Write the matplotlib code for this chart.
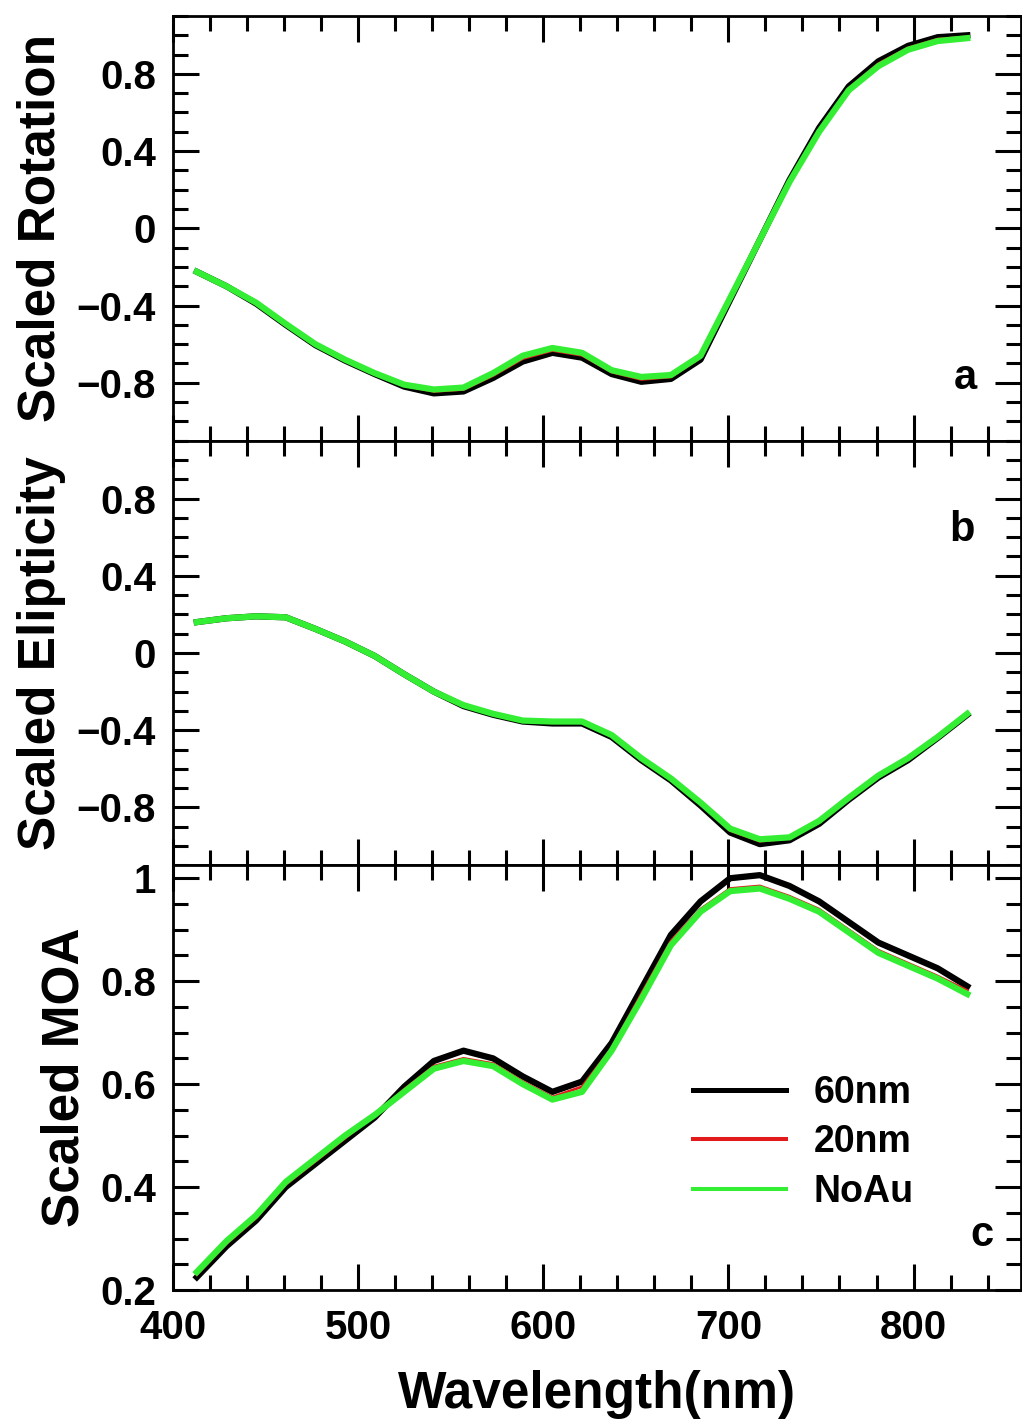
import matplotlib
matplotlib.use("Agg")
import matplotlib.pyplot as plt
from matplotlib.lines import Line2D
from matplotlib.ticker import MultipleLocator, FuncFormatter

plt.rcParams['font.family'] = ['Liberation Sans', 'DejaVu Sans']
plt.rcParams['font.weight'] = 'bold'

# wavelength grid (nm)
wl = [413, 429, 445, 461, 477, 493, 509, 525, 541, 557, 573, 589, 605, 621,
      637, 653, 669, 685, 701, 717, 733, 749, 765, 781, 797, 813, 829]

# panel a: scaled rotation
rot_60 = [-0.225, -0.30, -0.39, -0.50, -0.605, -0.685, -0.755, -0.82, -0.855, -0.845,
          -0.775, -0.69, -0.645, -0.67, -0.755, -0.795, -0.78, -0.68, -0.37, -0.06,
          0.25, 0.52, 0.735, 0.865, 0.945, 0.99, 1.0]
rot_20 = [-0.225, -0.30, -0.388, -0.498, -0.603, -0.683, -0.753, -0.815, -0.845, -0.835,
          -0.763, -0.675, -0.633, -0.658, -0.745, -0.783, -0.77, -0.67, -0.365, -0.06,
          0.245, 0.51, 0.725, 0.853, 0.935, 0.98, 0.992]
rot_noau = [-0.225, -0.30, -0.385, -0.495, -0.60, -0.68, -0.75, -0.81, -0.835, -0.825,
            -0.75, -0.66, -0.62, -0.645, -0.735, -0.77, -0.76, -0.66, -0.36, -0.06,
            0.24, 0.50, 0.715, 0.84, 0.925, 0.97, 0.985]

# panel b: scaled ellipticity
ell_60 = [0.16, 0.18, 0.19, 0.185, 0.125, 0.06, -0.015, -0.11, -0.20, -0.275,
          -0.32, -0.355, -0.365, -0.365, -0.435, -0.555, -0.66, -0.79, -0.93, -0.99,
          -0.97, -0.885, -0.76, -0.645, -0.555, -0.44, -0.32]
ell_20 = [0.16, 0.18, 0.19, 0.185, 0.125, 0.06, -0.015, -0.11, -0.20, -0.272,
          -0.318, -0.352, -0.36, -0.36, -0.43, -0.55, -0.655, -0.78, -0.92, -0.975,
          -0.96, -0.877, -0.755, -0.64, -0.55, -0.437, -0.318]
ell_noau = [0.16, 0.18, 0.19, 0.185, 0.125, 0.06, -0.015, -0.11, -0.20, -0.27,
            -0.315, -0.35, -0.355, -0.355, -0.425, -0.545, -0.65, -0.775, -0.91, -0.965,
            -0.955, -0.87, -0.75, -0.635, -0.545, -0.435, -0.315]

# panel c: scaled MOA
moa_60 = [0.225, 0.285, 0.335, 0.40, 0.445, 0.49, 0.535, 0.595, 0.645, 0.665,
          0.65, 0.615, 0.585, 0.605, 0.68, 0.785, 0.89, 0.955, 1.0, 1.006,
          0.985, 0.955, 0.915, 0.875, 0.85, 0.825, 0.79]
moa_20 = [0.23, 0.29, 0.34, 0.405, 0.45, 0.495, 0.54, 0.59, 0.635, 0.65,
          0.64, 0.605, 0.575, 0.595, 0.67, 0.775, 0.878, 0.94, 0.98, 0.985,
          0.965, 0.94, 0.90, 0.86, 0.835, 0.81, 0.782]
moa_noau = [0.235, 0.295, 0.345, 0.41, 0.455, 0.50, 0.54, 0.585, 0.63, 0.645,
            0.635, 0.60, 0.57, 0.585, 0.665, 0.765, 0.87, 0.935, 0.975, 0.98,
            0.96, 0.935, 0.895, 0.855, 0.83, 0.805, 0.775]

labels = ["60nm", "20nm", "NoAu"]
colors = ["black", "#e31a1c", "#33ee33"]
widths = [4.5, 2.0, 4.5]

panels = [
    ([rot_60, rot_20, rot_noau], "Scaled Rotation", (-1.1, 1.1), 0.4, 0.1, "a", (0.934, 0.147)),
    ([ell_60, ell_20, ell_noau], "Scaled Elipticity", (-1.1, 1.1), 0.4, 0.1, "b", (0.930, 0.79)),
    ([moa_60, moa_20, moa_noau], "Scaled MOA", (0.2, 1.025), 0.2, 0.05, "c", (0.954, 0.13)),
]


def fmt(v, pos):
    s = "%g" % round(v, 3)
    return s.replace("-", "\u2212")


fig = plt.figure(figsize=(10.22, 14.25), dpi=100)
left, right = 0.169, 0.999
bottom, top = 0.0947, 0.9888
h = (top - bottom) / 3

axes = []
for i, (series, ylab, ylim, major, minor, tag, tagpos) in enumerate(panels):
    ax = fig.add_axes([left, top - (i + 1) * h, right - left, h])
    axes.append(ax)
    for ys, c, lw in zip(series, colors, widths):
        ax.plot(wl, ys, color=c, lw=lw, solid_joinstyle='round')
    ax.set_xlim(400, 858)
    ax.set_ylim(*ylim)
    ax.xaxis.set_major_locator(MultipleLocator(100))
    ax.xaxis.set_minor_locator(MultipleLocator(20))
    ax.yaxis.set_major_locator(MultipleLocator(major))
    ax.yaxis.set_minor_locator(MultipleLocator(minor))
    ax.yaxis.set_major_formatter(FuncFormatter(fmt))
    ax.tick_params(which='both', direction='in', top=True, right=True, width=2.2)
    ax.tick_params(which='major', length=19)
    ax.tick_params(which='minor', length=11)
    ax.tick_params(axis='y', labelsize=29, pad=12)
    ax.tick_params(axis='x', labelsize=29, pad=14)
    for sp in ax.spines.values():
        sp.set_linewidth(2)
    ax.set_ylabel(ylab, fontsize=37, fontweight='bold', labelpad=8)
    ax.text(tagpos[0], tagpos[1], tag, transform=ax.transAxes, fontsize=30,
            fontweight='bold', ha='center', va='center')
    if i < 2:
        ax.tick_params(axis='x', labelbottom=False)

ax = axes[2]
ax.set_xlabel("Wavelength(nm)", fontsize=37, fontweight='bold', labelpad=16)

handles = [Line2D([], [], color=c, lw=lw) for c, lw in zip(colors, [3.6, 2.9, 2.9])]
ax.legend(handles, labels, loc='center left', bbox_to_anchor=(0.613, 0.348),
          frameon=False, handlelength=2.5, handletextpad=0.72,
          labelspacing=0.36, borderpad=0, borderaxespad=0,
          prop={'size': 27, 'weight': 'bold'})

fig.savefig("out.png", dpi=100)
